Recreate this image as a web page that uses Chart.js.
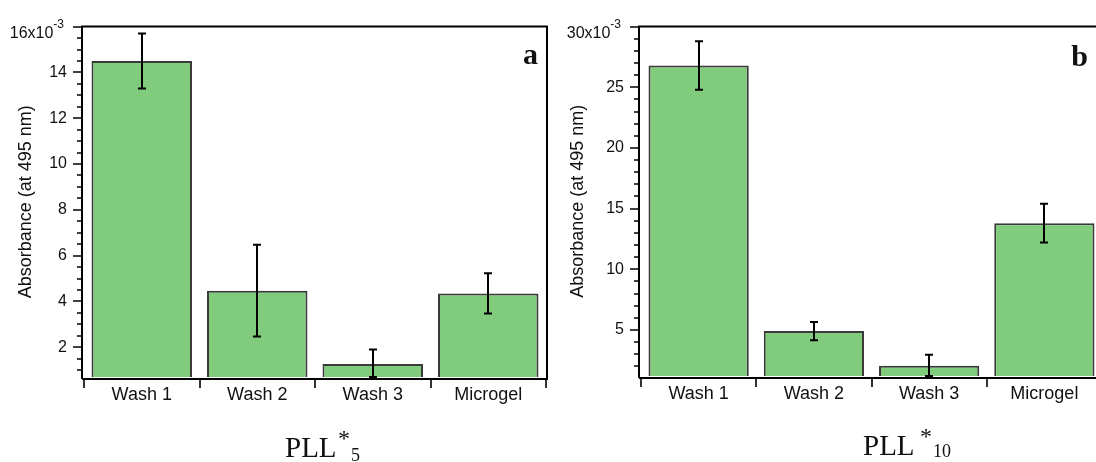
<!DOCTYPE html>
<html>
<head>
<meta charset="utf-8">
<title>Absorbance at 495 nm</title>
<script src="https://cdn.jsdelivr.net/npm/chart.js@4.4.1/dist/chart.umd.min.js"></script>
<style>
  html, body { margin: 0; padding: 0; background: #fff; overflow: hidden; }
  body { position: relative; width: 1096px; height: 462px; }
  .panel { position: absolute; top: 0; width: 560px; height: 462px; }
  #panel-a { left: 0; }
  #panel-b { left: 560px; }
</style>
</head>
<body>
<div class="panel" id="panel-a"><canvas id="chart-a" width="560" height="462"></canvas></div>
<div class="panel" id="panel-b"><canvas id="chart-b" width="560" height="462"></canvas></div>
<script>
/* ============================================================
   Absorbance (at 495 nm) per wash step — PLL*5 / PLL*10
   values are in units of 1e-3
   ============================================================ */

const categories = ['Wash 1', 'Wash 2', 'Wash 3', 'Microgel'];

// PLL*5
const pll5Means = [14.5, 4.47, 1.27, 4.35];
const pll5Errors = [1.2, 2.0, 0.63, 0.88];
const pll5Ticks = [2, 4, 6, 8, 10, 12, 14, 16];

// PLL*10
const pll10Means = [26.8, 4.9, 2.05, 13.8];
const pll10Errors = [2.0, 0.75, 0.9, 1.6];
const pll10Ticks = [5, 10, 15, 20, 25, 30];

const SANS = 'Liberation Sans, Arial, sans-serif';
const SERIF = 'Liberation Serif, Times New Roman, serif';
const INK = '#111';

// =========================================================
// Error bars, axes with minor ticks, frame, captions
// =========================================================
const decorPlugin = {
  id: 'decor',

  afterDatasetsDraw(chart) {
    const ctx = chart.ctx;
    const y = chart.scales.y;
    const ds = chart.data.datasets[0];
    const meta = chart.getDatasetMeta(0);
    ctx.save();
    ctx.strokeStyle = '#000';
    ctx.lineWidth = 2;
    meta.data.forEach((bar, i) => {
      const v = ds.data[i];
      const e = ds.errors[i];
      const top = y.getPixelForValue(v + e);
      const bot = y.getPixelForValue(Math.max(v - e, y.min));
      const x = Math.round(bar.x);
      ctx.beginPath();
      ctx.moveTo(x, top); ctx.lineTo(x, bot);
      ctx.moveTo(x - 4, top); ctx.lineTo(x + 4, top);
      ctx.moveTo(x - 4, bot); ctx.lineTo(x + 4, bot);
      ctx.stroke();
    });
    ctx.restore();
  },

  afterDraw(chart, args, opts) {
    const ctx = chart.ctx;
    const area = chart.chartArea;
    const y = chart.scales.y;
    const x = chart.scales.x;
    const axisX = area.left - 2;
    const axisY = area.bottom + 2;
    ctx.save();

    // frame: y axis, top line, right side, x axis
    ctx.strokeStyle = '#000';
    ctx.lineWidth = 2;
    ctx.beginPath();
    ctx.moveTo(axisX, axisY); ctx.lineTo(axisX, area.top);
    ctx.lineTo(area.right + 1, area.top); ctx.lineTo(area.right + 1, axisY);
    ctx.lineTo(axisX, axisY);
    ctx.stroke();

    // y ticks: major on the labelled values, minor every opts.minorStep
    const majors = y.ticks.map(t => t.value);
    ctx.lineWidth = 1.6;
    ctx.beginPath();
    for (let v = Math.ceil(y.min / opts.minorStep) * opts.minorStep; v <= y.max + 1e-9; v += opts.minorStep) {
      const py = Math.round(y.getPixelForValue(v));
      const len = majors.some(m => Math.abs(m - v) < 1e-6) ? 9 : 5;
      ctx.moveTo(axisX - len, py); ctx.lineTo(axisX, py);
    }
    // x ticks on category boundaries
    const step = x.getPixelForValue(1) - x.getPixelForValue(0);
    for (let i = 0; i <= categories.length; i++) {
      const px = Math.round(x.getPixelForValue(0) - step / 2 + i * step);
      ctx.moveTo(px, axisY); ctx.lineTo(px, axisY + 9);
    }
    ctx.stroke();

    // top y label with exponent
    const right = axisX - 18;
    const topPx = y.getPixelForValue(y.max);
    ctx.fillStyle = INK;
    ctx.textAlign = 'right';
    ctx.textBaseline = 'alphabetic';
    ctx.font = '12px ' + SANS;
    const expW = ctx.measureText(opts.exponent).width;
    ctx.fillText(opts.exponent, right, topPx + 1);
    ctx.font = '16px ' + SANS;
    ctx.fillText(opts.topLabel, right - expW, topPx + 11);

    // panel letter
    ctx.font = 'bold 30px ' + SERIF;
    ctx.fillText(opts.letter, opts.letterX, opts.letterY);

    // caption: PLL*n
    const c = opts.caption;
    ctx.textAlign = 'left';
    ctx.font = '29px ' + SERIF;
    ctx.fillText('PLL', c.x, c.y);
    ctx.font = '24px ' + SERIF;
    ctx.fillText('*', c.supX, c.supY);
    ctx.font = '18px ' + SERIF;
    ctx.fillText(c.sub, c.subX, c.subY);

    ctx.restore();
  },
};

function makeChart(canvasId, means, errors, tickValues, cfg) {
  const yMax = tickValues[tickValues.length - 1];
  return new Chart(document.getElementById(canvasId), {
    type: 'bar',
    data: {
      labels: categories,
      datasets: [{
        data: means,
        errors: errors,
        backgroundColor: '#80cb7c',
        borderColor: '#3a3a3a',
        borderWidth: 2,
        barPercentage: 0.87,
        categoryPercentage: 1,
      }],
    },
    plugins: [decorPlugin],
    options: {
      responsive: false,
      animation: false,
      devicePixelRatio: 1,
      layout: { padding: { top: cfg.top, right: cfg.right, bottom: cfg.bottom, left: 0 } },
      plugins: {
        legend: { display: false },
        tooltip: { enabled: false },
        decor: cfg.decor,
      },
      scales: {
        x: {
          grid: { display: false, drawTicks: false },
          border: { display: false },
          ticks: { color: INK, font: { family: SANS, size: 18 }, padding: 7, maxRotation: 0 },
          afterFit: s => { s.height = 40; },
        },
        y: {
          min: cfg.yMin,
          max: yMax,
          grid: { display: false, drawTicks: false },
          border: { display: false },
          afterBuildTicks: s => { s.ticks = tickValues.map(v => ({ value: v })); },
          ticks: {
            color: INK,
            font: { family: SANS, size: 16 },
            padding: 17,
            callback: v => (v === yMax ? '' : String(v)),
          },
          title: {
            display: true,
            text: 'Absorbance (at 495 nm)',
            color: INK,
            font: { family: SANS, size: 18 },
            padding: { top: cfg.titlePad, bottom: 0 },
          },
          afterFit: s => { s.width = cfg.yWidth; },
        },
      },
    },
  });
}

makeChart('chart-a', pll5Means, pll5Errors, pll5Ticks, {
  top: 24, right: 14, bottom: 45, yWidth: 84, yMin: 0.7, titlePad: 15,
  decor: {
    minorStep: 0.5, topLabel: '16x10', exponent: '-3',
    letter: 'a', letterX: 538, letterY: 64,
    caption: { x: 285, y: 457, supX: 338, supY: 446, subX: 351, subY: 461, sub: '5' },
  },
});

makeChart('chart-b', pll10Means, pll10Errors, pll10Ticks, {
  top: 25, right: 18, bottom: 46, yWidth: 81, yMin: 1.2, titlePad: 7,
  decor: {
    minorStep: 1, topLabel: '30x10', exponent: '-3',
    letter: 'b', letterX: 528, letterY: 66,
    caption: { x: 303, y: 455, supX: 360, supY: 444, subX: 373, subY: 457, sub: '10' },
  },
});
</script>
</body>
</html>
